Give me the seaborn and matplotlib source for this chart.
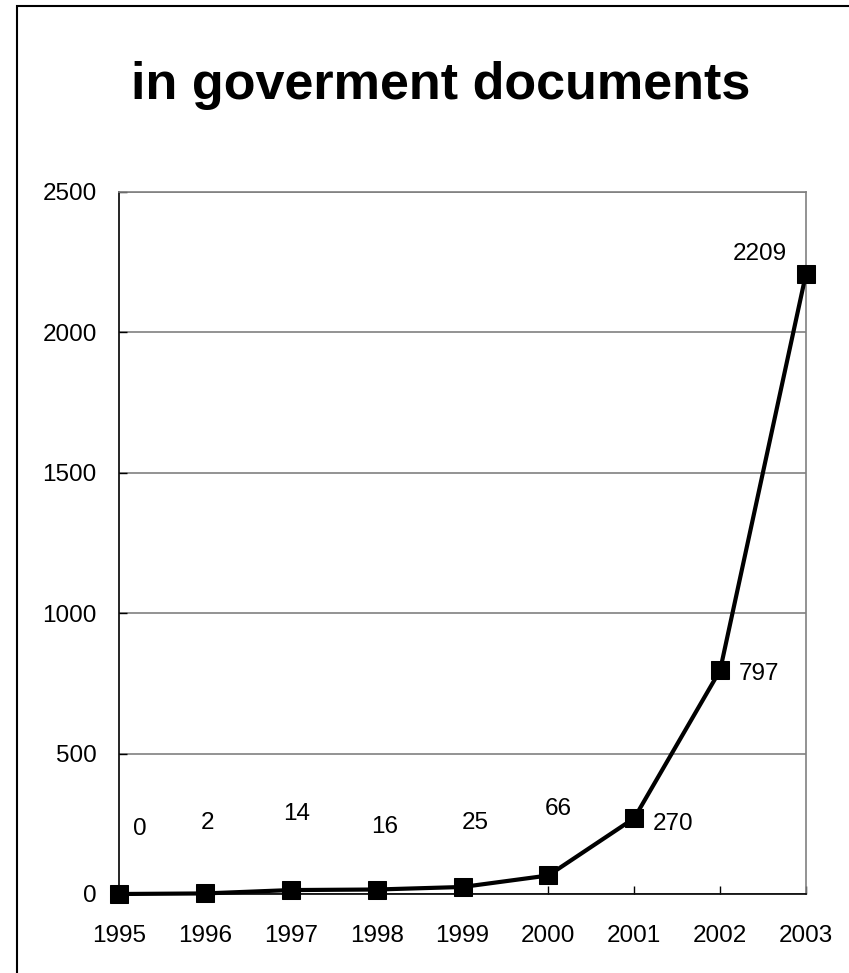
import matplotlib
matplotlib.use("Agg")
import matplotlib.pyplot as plt
import seaborn as sns
import pandas as pd
from matplotlib.patches import Rectangle

years = ["1995", "1996", "1997", "1998", "1999", "2000", "2001", "2002", "2003"]
counts = [0, 2, 14, 16, 25, 66, 270, 797, 2209]
title = "in goverment documents"
y_ticks = [0, 500, 1000, 1500, 2000, 2500]

# label offsets in points (presentation only)
label_offsets = [(15, 47), (2, 51), (4, 55), (6, 45), (9, 46), (7, 48), (28, -4), (28, -3), (-33, 14)]

sns.set_theme(style="white")
plt.rcParams["font.family"] = ["Liberation Sans", "DejaVu Sans"]

fig = plt.figure(figsize=(8.49, 9.73), dpi=100)
ax = fig.add_axes([119 / 849, 1 - 894 / 973, 687 / 849, 702 / 973])

df = pd.DataFrame({"year": years, "count": counts})
sns.lineplot(data=df, x="year", y="count", ax=ax, color="black", linewidth=3,
             marker="s", markersize=13.5, markeredgecolor="black", sort=False,
             clip_on=False, zorder=5)

ax.set_xlim(0, len(years) - 1)
ax.set_ylim(0, 2500)
ax.set_yticks(y_ticks)
ax.set_yticklabels([str(t) for t in y_ticks])
ax.set_xticks(range(len(years)))
ax.set_xticklabels(years)
ax.set_xlabel("")
ax.set_ylabel("")

ax.grid(axis="y", color="#808080", linewidth=1.2)
ax.grid(axis="x", visible=False)
ax.set_axisbelow(True)

for side in ["top", "right"]:
    ax.spines[side].set_color("#808080")
    ax.spines[side].set_linewidth(1.2)
for side in ["left", "bottom"]:
    ax.spines[side].set_color("black")
    ax.spines[side].set_linewidth(1.2)

ax.tick_params(axis="both", direction="in", length=6, width=1, color="black",
               labelsize=17.5, labelcolor="black")
ax.tick_params(axis="y", pad=16)
ax.tick_params(axis="x", pad=22, bottom=True)
ax.tick_params(axis="y", left=True)

for i, (y, v) in enumerate(zip(years, counts)):
    dx, dy = label_offsets[i]
    ax.annotate(str(v), xy=(i, v), xytext=(dx, dy), textcoords="offset points",
                ha="center", va="center", fontsize=17.5, color="black",
                annotation_clip=False)

fig.text(441 / 849, 1 - 86 / 973, title, ha="center", va="center",
         fontsize=37.5, fontweight="bold", color="black")

fig.patches.append(Rectangle((17 / 849, -0.1), 2, 1 - 6 / 973 + 0.1,
                             transform=fig.transFigure, fill=False,
                             edgecolor="black", linewidth=1.5))

fig.savefig("out.png", dpi=100, facecolor="white")
